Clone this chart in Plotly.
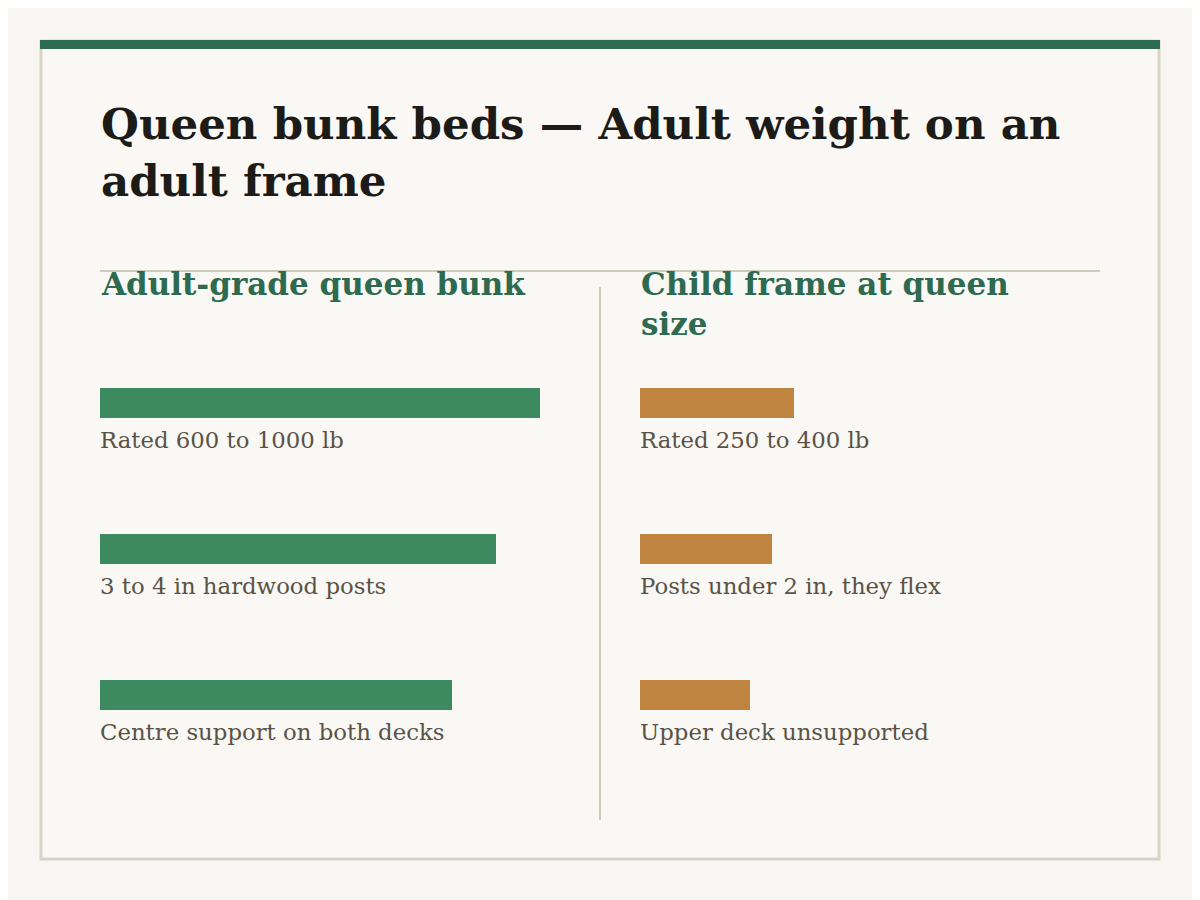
import plotly.graph_objects as go

# The page adds an 8px body margin, so the figure is sized to fit the window exactly
OFF = 8
W, H = 1200 - OFF, 900 - OFF

title_text = "Queen bunk beds — Adult weight on an<br>adult frame"
left_heading = "Adult-grade queen bunk"
right_heading = "Child frame at queen<br>size"

left_labels = ["Rated 600 to 1000 lb", "3 to 4 in hardwood posts", "Centre support on both decks"]
left_values = [100, 90, 80]
right_labels = ["Rated 250 to 400 lb", "Posts under 2 in, they flex", "Upper deck unsupported"]
right_values = [35, 30, 25]

GREEN = "#3e8a60"
ORANGE = "#bf8540"
HEAD = "#2d6a4f"
LABEL = "#5a5245"
SERIF = "Georgia, 'DejaVu Serif', 'Liberation Serif', serif"


def px(x):
    return (x - OFF) / W


def py(y):
    return 1 - (y - OFF) / H


fig = go.Figure()
pos = [0, 1, 2]
bar_w = 30 / 146
fig.add_trace(go.Bar(x=left_values, y=pos, orientation="h", marker=dict(color=GREEN, line=dict(width=0)),
                     width=bar_w, xaxis="x", yaxis="y", hoverinfo="skip", showlegend=False))
fig.add_trace(go.Bar(x=right_values, y=pos, orientation="h", marker=dict(color=ORANGE, line=dict(width=0)),
                     width=bar_w, xaxis="x2", yaxis="y2", hoverinfo="skip", showlegend=False))

ydom = [py(768), py(330)]
axis_common = dict(showgrid=False, zeroline=False, showticklabels=False, ticks="", showline=False)
fig.update_layout(
    width=W, height=H,
    margin=dict(l=0, r=0, t=0, b=0),
    paper_bgcolor="#f7f6f2",
    plot_bgcolor="rgba(0,0,0,0)",
    xaxis=dict(domain=[px(100), px(540)], range=[0, 100], anchor="y", **axis_common),
    yaxis=dict(domain=ydom, range=[2.5, -0.5], anchor="x", **axis_common),
    xaxis2=dict(domain=[px(640), px(1080)], range=[0, 100], anchor="y2", **axis_common),
    yaxis2=dict(domain=ydom, range=[2.5, -0.5], anchor="x2", **axis_common),
    bargap=0,
)

shapes = [
    dict(type="rect", xref="paper", yref="paper", x0=px(41), x1=px(1159), y0=py(859), y1=py(41),
         line=dict(color="#d9d3c6", width=3), fillcolor="#f9f8f5", layer="below"),
    dict(type="rect", xref="paper", yref="paper", x0=px(40), x1=px(1160), y0=py(49), y1=py(40),
         line=dict(width=0), fillcolor="#2d6a4f", layer="above"),
    dict(type="line", xref="paper", yref="paper", x0=px(100), x1=px(1100), y0=py(271), y1=py(271),
         line=dict(color="#d0cabd", width=2), layer="below"),
    dict(type="line", xref="paper", yref="paper", x0=px(600), x1=px(600), y0=py(287), y1=py(820),
         line=dict(color="#d0cabd", width=2), layer="below"),
]
fig.update_layout(shapes=shapes)

ann = [
    dict(text="<b>" + title_text + "</b>", xref="paper", yref="paper", x=px(99), y=py(96),
         xanchor="left", yanchor="top", align="left", showarrow=False,
         font=dict(family=SERIF, size=43.5, color="#1c1b17")),
    dict(text="<b>" + left_heading + "</b>", xref="paper", yref="paper", x=px(99), y=py(264),
         xanchor="left", yanchor="top", align="left", showarrow=False,
         font=dict(family=SERIF, size=31, color=HEAD)),
    dict(text="<b>" + right_heading + "</b>", xref="paper", yref="paper", x=px(639), y=py(264),
         xanchor="left", yanchor="top", align="left", showarrow=False,
         font=dict(family=SERIF, size=31, color=HEAD)),
]
for xa, ya, labels in [("x", "y", left_labels), ("x2", "y2", right_labels)]:
    for i, lab in enumerate(labels):
        ann.append(dict(text=lab, xref=xa, yref=ya, x=0, y=pos[i], xanchor="left", yanchor="top",
                        yshift=-22, xshift=-2, showarrow=False, align="left",
                        font=dict(family=SERIF, size=22.8, color=LABEL)))
fig.update_layout(annotations=ann)

fig.write_html("out.html")
